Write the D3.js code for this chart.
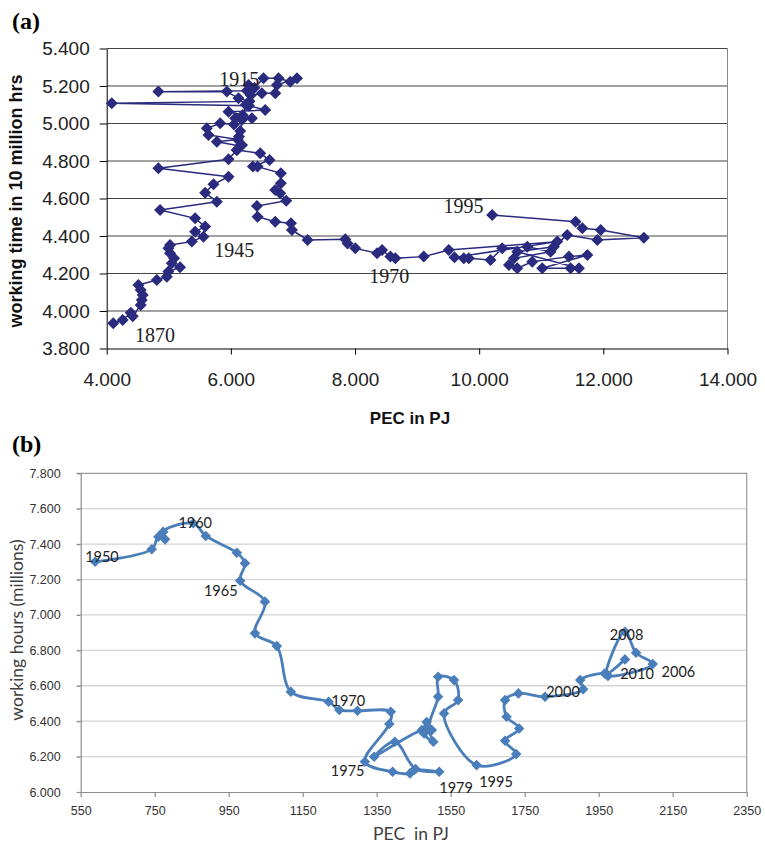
<!DOCTYPE html>
<html>
<head>
<meta charset="utf-8">
<script src="https://cdn.jsdelivr.net/npm/d3@7"></script>
<style>
  body { margin: 0; background: #fff; }
  svg { display: block; }
</style>
</head>
<body>
<div id="chart"></div>
<script>
// ---- panel (a): 1870 - 1995 ----
const pecA = [4106, 4258, 4387, 4420, 4548, 4565, 4581, 4548, 4510, 4807, 4968, 4994, 5182, 5048, 5086, 5021, 4994, 5021,
  5371, 5558, 5424, 5586, 5424, 4860, 5774, 5586, 5720, 5962, 4832, 5962,
  6097, 6150, 5774, 6110, 5640, 5613, 5828, 6050, 6070, 6339, 6190, 5962, 6553, 6290, 4081, 6300, 6123,
  5936, 4832, 6258, 6284, 6380, 6526, 6768, 6957, 7065, 6742, 6715, 6500, 6320, 6240, 6180, 6150, 6130, 6180, 6097,
  6473, 6623, 6355, 6430, 6806, 6806, 6715, 6795, 6892, 6420, 6430, 6715, 6968, 6984, 7236, 7844, 7880, 8005, 8355,
  8436, 8570, 8650, 9107, 9510, 11258, 9602, 9752, 9833, 10182, 10371, 10775, 11150, 10560, 10479, 10613, 10855,
  11445, 11743, 11016, 11472, 11607, 10613, 11203, 11418, 11903, 12652, 11957, 11662, 11553, 10210];
const workA = [3.934, 3.952, 3.991, 3.972, 4.032, 4.059, 4.085, 4.112, 4.139, 4.165, 4.183, 4.210, 4.233, 4.254, 4.281, 4.308, 4.334, 4.352,
  4.370, 4.396, 4.423, 4.450, 4.494, 4.539, 4.583, 4.631, 4.676, 4.716, 4.761, 4.809,
  4.859, 4.880, 4.903, 4.915, 4.939, 4.974, 5.001, 4.995, 5.028, 5.028, 5.045, 5.063, 5.072, 5.095, 5.108, 5.118, 5.134,
  5.170, 5.170, 5.175, 5.205, 5.190, 5.241, 5.241, 5.223, 5.241, 5.205, 5.161, 5.161, 5.150, 5.100, 5.020, 4.960, 4.930, 4.885, 4.859,
  4.841, 4.805, 4.770, 4.770, 4.734, 4.681, 4.645, 4.628, 4.588, 4.560, 4.503, 4.476, 4.468, 4.432, 4.379, 4.382, 4.360, 4.334, 4.308,
  4.325, 4.290, 4.281, 4.290, 4.325, 4.370, 4.286, 4.281, 4.281, 4.272, 4.334, 4.343, 4.316, 4.281, 4.245, 4.228, 4.263,
  4.290, 4.299, 4.228, 4.228, 4.228, 4.316, 4.343, 4.405, 4.379, 4.391, 4.432, 4.441, 4.476, 4.512];
const yearTextA = ["1915", "1945", "1870", "1970", "1995"];
const yearPecA = [5811, 5731, 4456, 8231, 9425];
const yearWorkA = [5.200, 4.288, 3.836, 4.149, 4.523];
const xTicksA = [4000, 6000, 8000, 10000, 12000, 14000];
const xTickTextA = ["4.000", "6.000", "8.000", "10.000", "12.000", "14.000"];
const yTicksA = [3.8, 4.0, 4.2, 4.4, 4.6, 4.8, 5.0, 5.2, 5.4];
const yTickTextA = ["3.800", "4.000", "4.200", "4.400", "4.600", "4.800", "5.000", "5.200", "5.400"];

// ---- panel (b): 1950 - 2010 ----
const pecB = [589, 742, 760, 778, 773, 854, 888, 972, 994, 981, 1048, 1021, 1080, 1118, 1220, 1249, 1298, 1388, 1384, 1318,
  1393, 1440, 1451, 1519, 1455, 1399, 1343, 1472, 1499, 1485, 1478, 1503, 1490, 1516, 1516, 1559, 1570, 1532, 1620,
  1727, 1697, 1735, 1701, 1697, 1733, 1805, 1908, 1900, 1966, 1975, 2096, 2051, 2021, 1971, 2021];
const hoursB = [7.300, 7.371, 7.442, 7.427, 7.470, 7.518, 7.446, 7.351, 7.292, 7.193, 7.075, 6.896, 6.824, 6.566, 6.510, 6.463, 6.459, 6.453, 6.384, 6.171,
  6.114, 6.105, 6.124, 6.114, 6.130, 6.284, 6.199, 6.350, 6.350, 6.395, 6.330, 6.284, 6.360, 6.538, 6.651, 6.632, 6.519, 6.444, 6.152,
  6.214, 6.289, 6.359, 6.425, 6.519, 6.557, 6.538, 6.580, 6.632, 6.669, 6.655, 6.723, 6.786, 6.905, 6.668, 6.749];
const yearTextB = ["1950", "1960", "1965", "1970", "1975", "1979", "1995", "2000", "2008", "2010", "2006"];
const yearPecB = [562, 814, 883, 1228, 1226, 1519, 1627, 1808, 1980, 2008, 2120];
const yearHoursB = [7.301, 7.491, 7.107, 6.483, 6.090, 5.994, 6.030, 6.539, 6.858, 6.638, 6.652];
const xTicksB = [550, 750, 950, 1150, 1350, 1550, 1750, 1950, 2150, 2350];
const xTickTextB = ["550", "750", "950", "1150", "1350", "1550", "1750", "1950", "2150", "2350"];
const yTicksB = [6.0, 6.2, 6.4, 6.6, 6.8, 7.0, 7.2, 7.4, 7.6, 7.8];
const yTickTextB = ["6.000", "6.200", "6.400", "6.600", "6.800", "7.000", "7.200", "7.400", "7.600", "7.800"];

const width = 765;
const height = 843;

const svg = d3.select("#chart")
  .append("svg")
  .attr("width", width)
  .attr("height", height);

const diamond = size => d3.symbol(d3.symbolSquare, size)();

// ================= (a) =================
const xA = d3.scaleLinear().domain([4000, 14000]).range([106.7, 727.5]);
const yA = d3.scaleLinear().domain([3.8, 5.4]).range([348.5, 48.5]);
const gA = svg.append("g").attr("font-family", "'Liberation Sans', Arial, sans-serif");

gA.append("g")
  .selectAll("line")
  .data(yTicksA.slice(1))
  .join("line")
  .attr("x1", xA(4000)).attr("x2", xA(14000))
  .attr("y1", d => yA(d)).attr("y2", d => yA(d))
  .attr("stroke", "#444").attr("stroke-width", 1.2);

gA.append("line")
  .attr("x1", xA(14000)).attr("x2", xA(14000))
  .attr("y1", yA(5.4)).attr("y2", yA(3.8))
  .attr("stroke", "#888").attr("stroke-width", 1);

const xAxisA = d3.axisBottom(xA)
  .tickValues(xTicksA)
  .tickFormat((d, i) => xTickTextA[i])
  .tickSize(6).tickSizeOuter(0).tickPadding(18);
gA.append("g")
  .attr("transform", `translate(0,${yA(3.8)})`)
  .call(xAxisA)
  .call(g => g.selectAll("text").attr("font-size", 19).attr("fill", "#222").attr("font-family", null))
  .call(g => g.selectAll("line,path").attr("stroke", "#000"));

const yAxisA = d3.axisLeft(yA)
  .tickValues(yTicksA)
  .tickFormat((d, i) => yTickTextA[i])
  .tickSize(7).tickSizeOuter(0).tickPadding(10);
gA.append("g")
  .attr("transform", `translate(${xA(4000)},0)`)
  .call(yAxisA)
  .call(g => g.selectAll("text").attr("font-size", 19).attr("fill", "#222").attr("font-family", null))
  .call(g => g.selectAll("line,path").attr("stroke", "#000"));

const lineA = d3.line()
  .x(i => xA(pecA[i]))
  .y(i => yA(workA[i]));

gA.append("path")
  .attr("d", lineA(d3.range(pecA.length)))
  .attr("fill", "none")
  .attr("stroke", "#2a2a7e")
  .attr("stroke-width", 1.5);

gA.append("g")
  .selectAll("path")
  .data(d3.range(pecA.length))
  .join("path")
  .attr("d", diamond(72))
  .attr("transform", i => `translate(${xA(pecA[i])},${yA(workA[i])}) rotate(45)`)
  .attr("fill", "#2a2a7e");

gA.append("g")
  .selectAll("text")
  .data(yearTextA)
  .join("text")
  .attr("x", (d, i) => xA(yearPecA[i]))
  .attr("y", (d, i) => yA(yearWorkA[i]))
  .attr("font-family", "'Liberation Serif', 'Times New Roman', serif")
  .attr("font-size", 20)
  .attr("fill", "#222")
  .text(d => d);

gA.append("text")
  .attr("transform", "translate(22,201) rotate(-90)")
  .attr("text-anchor", "middle")
  .attr("font-weight", "bold")
  .attr("font-size", 18)
  .attr("fill", "#111")
  .text("working time in 10 million hrs");

gA.append("text")
  .attr("x", 410).attr("y", 424)
  .attr("text-anchor", "middle")
  .attr("font-weight", "bold")
  .attr("font-size", 17)
  .attr("fill", "#111")
  .text("PEC in PJ");

svg.append("text")
  .attr("x", 12).attr("y", 29)
  .attr("font-family", "'Liberation Serif', 'Times New Roman', serif")
  .attr("font-weight", "bold")
  .attr("font-size", 24)
  .text("(a)");

// ================= (b) =================
const xB = d3.scaleLinear().domain([550, 2350]).range([80.7, 746.7]);
const yB = d3.scaleLinear().domain([6.0, 7.8]).range([792, 473.3]);
const gB = svg.append("g").attr("font-family", "Lato, 'Open Sans', sans-serif");

gB.append("g")
  .selectAll("line")
  .data(yTicksB.slice(1, -1))
  .join("line")
  .attr("x1", xB(550) - 4).attr("x2", xB(2350))
  .attr("y1", d => yB(d)).attr("y2", d => yB(d))
  .attr("stroke", "#d4d4d4").attr("stroke-width", 1.3);

gB.append("path")
  .attr("d", `M${xB(550) - 4},${yB(7.8)}H${xB(2350)}V${yB(6.0)}`)
  .attr("fill", "none")
  .attr("stroke", "#9a9a9a").attr("stroke-width", 1.2);

const xAxisB = d3.axisBottom(xB)
  .tickValues(xTicksB)
  .tickFormat((d, i) => xTickTextB[i])
  .tickSize(5).tickSizeOuter(0).tickPadding(9);
gB.append("g")
  .attr("transform", `translate(0,${yB(6.0)})`)
  .call(xAxisB)
  .call(g => g.selectAll("text").attr("font-size", 12.5).attr("fill", "#333").attr("font-family", null))
  .call(g => g.selectAll("line,path").attr("stroke", "#8c8c8c").attr("stroke-width", 1.2));

const yAxisB = d3.axisLeft(yB)
  .tickValues(yTicksB)
  .tickFormat((d, i) => yTickTextB[i])
  .tickSize(4).tickSizeOuter(0).tickPadding(16);
gB.append("g")
  .attr("transform", `translate(${xB(550)},0)`)
  .call(yAxisB)
  .call(g => g.selectAll("text").attr("font-size", 12.5).attr("fill", "#333").attr("font-family", null))
  .call(g => g.selectAll("line,path").attr("stroke", "#8c8c8c").attr("stroke-width", 1.2));

const lineB = d3.line()
  .x(i => xB(pecB[i]))
  .y(i => yB(hoursB[i]))
  .curve(d3.curveCatmullRom.alpha(0.5));

gB.append("path")
  .attr("d", lineB(d3.range(pecB.length)))
  .attr("fill", "none")
  .attr("stroke", "#4a7ebb")
  .attr("stroke-width", 2.8);

gB.append("g")
  .selectAll("path")
  .data(d3.range(pecB.length))
  .join("path")
  .attr("d", diamond(56))
  .attr("transform", i => `translate(${xB(pecB[i])},${yB(hoursB[i])}) rotate(45)`)
  .attr("fill", "#4a7ebb");

gB.append("g")
  .selectAll("text")
  .data(yearTextB)
  .join("text")
  .attr("x", (d, i) => xB(yearPecB[i]))
  .attr("y", (d, i) => yB(yearHoursB[i]))
  .attr("font-size", 14.5)
  .attr("fill", "#222")
  .text(d => d);

gB.append("text")
  .attr("transform", "translate(23,630) rotate(-90)")
  .attr("text-anchor", "middle")
  .attr("font-size", 17.5)
  .attr("fill", "#404040")
  .text("working hours (millions)");

gB.append("text")
  .attr("x", 411).attr("y", 840)
  .attr("text-anchor", "middle")
  .attr("font-size", 17.5)
  .attr("fill", "#404040")
  .attr("xml:space", "preserve")
  .style("white-space", "pre")
  .text("PEC  in PJ");

svg.append("text")
  .attr("x", 12).attr("y", 452)
  .attr("font-family", "'Liberation Serif', 'Times New Roman', serif")
  .attr("font-weight", "bold")
  .attr("font-size", 24)
  .text("(b)");
</script>
</body>
</html>
